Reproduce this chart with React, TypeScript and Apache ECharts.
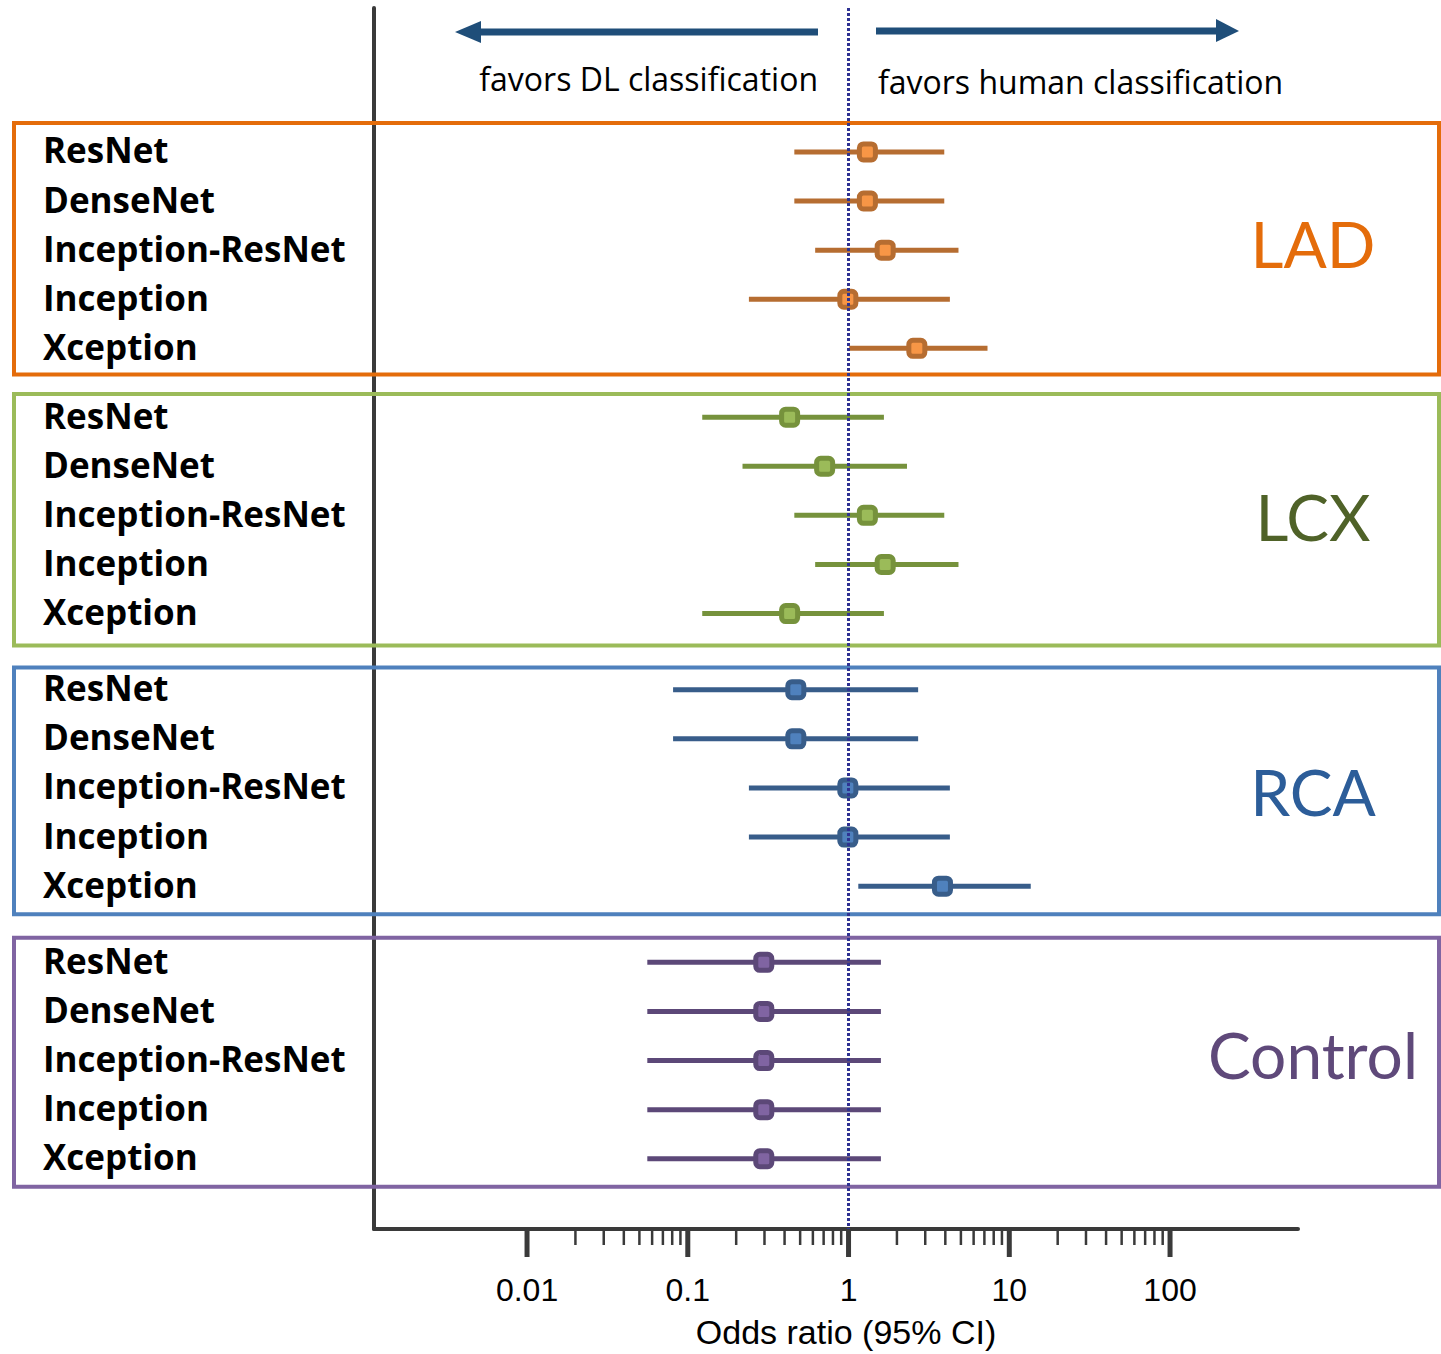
import React, { useEffect, useRef } from 'react';
import * as echarts from 'echarts';

// ---------- data ----------
const MODELS = ['ResNet', 'DenseNet', 'Inception-ResNet', 'Inception', 'Xception'];
const GROUPS = ['LAD', 'LCX', 'RCA', 'Control'];

const LAD_OR = [1.31, 1.31, 1.69, 0.99, 2.66];
const LAD_LO = [0.46, 0.46, 0.62, 0.24, 1.01];
const LAD_HI = [3.94, 3.94, 4.83, 4.27, 7.32];

const LCX_OR = [0.43, 0.71, 1.31, 1.69, 0.43];
const LCX_LO = [0.123, 0.219, 0.46, 0.62, 0.123];
const LCX_HI = [1.66, 2.31, 3.94, 4.83, 1.66];

const RCA_OR = [0.47, 0.47, 0.99, 0.99, 3.84];
const RCA_LO = [0.081, 0.081, 0.24, 0.24, 1.15];
const RCA_HI = [2.71, 2.71, 4.27, 4.27, 13.6];

const CTRL_OR = [0.297, 0.297, 0.297, 0.297, 0.297];
const CTRL_LO = [0.056, 0.056, 0.056, 0.056, 0.056];
const CTRL_HI = [1.59, 1.59, 1.59, 1.59, 1.59];

const OR_ALL = [LAD_OR, LCX_OR, RCA_OR, CTRL_OR];
const LO_ALL = [LAD_LO, LCX_LO, RCA_LO, CTRL_LO];
const HI_ALL = [LAD_HI, LCX_HI, RCA_HI, CTRL_HI];

const MAJOR_TICKS = [0.01, 0.1, 1, 10, 100];
const TICK_LABELS = ['0.01', '0.1', '1', '10', '100'];
const MINOR_MULTIPLIERS = [2, 3, 4, 5, 6, 7, 8, 9];

const X_TITLE = 'Odds ratio (95% CI)';
const LEFT_NOTE = 'favors DL classification';
const RIGHT_NOTE = 'favors human classification';

// ---------- styling / layout ----------
const LINE_COLORS = ['#B66D31', '#76923C', '#385D8A', '#5C4878'];
const FILL_COLORS = ['#F79646', '#9BBB59', '#4F81BD', '#8064A2'];
const BOX_COLORS = ['#E46C0A', '#9BBB59', '#4F81BD', '#8064A2'];
const GROUP_TEXT_COLORS = ['#E46C0A', '#4F6228', '#2C5D99', '#5F497A'];
const GROUP_START = [0, 5.4, 10.95, 16.5];
const BOX_PAD_TOP = [0.59, 0.47, 0.45, 0.5];
const BOX_PAD_BOTTOM = [0.53, 0.65, 0.57, 0.57];
const GROUP_LABEL_DY = [-7, 1, 3.5, -6];
const Y_MIN = -2.93;
const Y_MAX = 21.93;
const AXIS_COLOR = '#3A3A3A';

export default function App() {
  const ref = useRef<HTMLDivElement>(null);

  useEffect(() => {
    document.body.style.margin = '0';
    const chart = echarts.init(ref.current as HTMLDivElement, null, { renderer: 'svg' });

    const tickData: number[][] = [];
    MAJOR_TICKS.forEach((t, i) => {
      tickData.push([t, Y_MAX, 1]);
      if (i < MAJOR_TICKS.length - 1) {
        MINOR_MULTIPLIERS.forEach((m) => tickData.push([t * m, Y_MAX, 0]));
      }
    });

    const series: any[] = [];
    GROUPS.forEach((g, gi) => {
      series.push({
        name: g + ' CI',
        type: 'custom',
        z: 2,
        encode: { x: [0, 1], y: 2 },
        data: MODELS.map((_, r) => [LO_ALL[gi][r], HI_ALL[gi][r], GROUP_START[gi] + r]),
        renderItem: (params: any, api: any) => {
          const p1 = api.coord([api.value(0), api.value(2)]);
          const p2 = api.coord([api.value(1), api.value(2)]);
          return {
            type: 'line',
            shape: { x1: p1[0], y1: p1[1], x2: p2[0], y2: p2[1] },
            style: { stroke: LINE_COLORS[gi], lineWidth: 5 },
          };
        },
      });
      series.push({
        name: g,
        type: 'scatter',
        z: 4,
        symbol: 'roundRect',
        symbolSize: 16,
        itemStyle: { color: FILL_COLORS[gi], borderColor: LINE_COLORS[gi], borderWidth: 5, opacity: 1 },
        data: MODELS.map((_, r) => [OR_ALL[gi][r], GROUP_START[gi] + r]),
      });
    });

    series.push({
      name: 'ticks',
      type: 'custom',
      z: 3,
      encode: { x: 0, y: 1 },
      data: tickData,
      renderItem: (params: any, api: any) => {
        const p = api.coord([api.value(0), Y_MAX]);
        const major = api.value(2) === 1;
        return {
          type: 'line',
          shape: { x1: p[0], y1: p[1], x2: p[0], y2: p[1] + (major ? 28 : 16) },
          style: { stroke: AXIS_COLOR, lineWidth: major ? 5 : 2.5 },
        };
      },
      markLine: {
        silent: true,
        symbol: 'none',
        label: { show: false },
        lineStyle: { type: [3, 2], color: '#2E3192', width: 3 },
        data: [{ xAxis: 1 }],
      },
    });

    const option: any = {
      animation: false,
      backgroundColor: '#ffffff',
      grid: { left: 374, right: 143, top: 8, bottom: 125, containLabel: false },
      xAxis: {
        type: 'log',
        logBase: 10,
        min: Math.pow(10, -2.952),
        max: Math.pow(10, 2.796),
        name: X_TITLE,
        nameLocation: 'middle',
        nameGap: 86,
        nameTextStyle: {
          fontFamily: 'Liberation Sans',
          fontSize: 34,
          color: '#000',
          padding: [0, 0, 0, 20],
        },
        axisLine: { show: true, onZero: false, lineStyle: { color: AXIS_COLOR, width: 4 } },
        axisTick: { show: false },
        splitLine: { show: false },
        axisLabel: {
          showMinLabel: false,
          showMaxLabel: false,
          margin: 45,
          fontFamily: 'Liberation Sans',
          fontSize: 32,
          color: '#000',
          formatter: (v: number) => {
            const i = MAJOR_TICKS.findIndex((t) => Math.abs(Math.log10(t) - Math.log10(v)) < 1e-6);
            return i >= 0 ? TICK_LABELS[i] : '';
          },
        },
      },
      yAxis: {
        type: 'value',
        inverse: true,
        min: Y_MIN,
        max: Y_MAX,
        axisLine: { show: true, onZero: false, lineStyle: { color: AXIS_COLOR, width: 4 } },
        axisTick: { show: false },
        axisLabel: { show: false },
        splitLine: { show: false },
      },
      series,
    };

    chart.setOption(option);

    const yPx = (v: number) => chart.convertToPixel({ yAxisIndex: 0 }, v) as number;
    const graphics: any[] = [];

    GROUPS.forEach((g, gi) => {
      const top = yPx(GROUP_START[gi] - BOX_PAD_TOP[gi]);
      const bottom = yPx(GROUP_START[gi] + 4 + BOX_PAD_BOTTOM[gi]);
      graphics.push({
        type: 'rect',
        z: 1,
        shape: { x: 14, y: top, width: 1425, height: bottom - top },
        style: { fill: 'none', stroke: BOX_COLORS[gi], lineWidth: 4 },
      });
      MODELS.forEach((m, r) => {
        graphics.push({
          type: 'text',
          z: 10,
          x: 43,
          y: yPx(GROUP_START[gi] + r) - 2,
          style: {
            text: m,
            fontFamily: 'Open Sans',
            fontWeight: 'bold',
            fontSize: 35,
            fill: '#000',
            align: 'left',
            verticalAlign: 'middle',
          },
        });
      });
      graphics.push({
        type: 'text',
        z: 10,
        x: 1313,
        y: yPx(GROUP_START[gi] + 2) + GROUP_LABEL_DY[gi],
        style: {
          text: g,
          fontFamily: 'Lato',
          fontSize: 64,
          fill: GROUP_TEXT_COLORS[gi],
          align: 'center',
          verticalAlign: 'middle',
        },
      });
    });

    const arrowColor = '#1F4E79';
    graphics.push(
      { type: 'line', z: 10, shape: { x1: 818, y1: 32, x2: 476, y2: 32 }, style: { stroke: arrowColor, lineWidth: 7 } },
      { type: 'polygon', z: 10, shape: { points: [[455, 32], [481, 21], [481, 43]] }, style: { fill: arrowColor } },
      { type: 'line', z: 10, shape: { x1: 876, y1: 31, x2: 1219, y2: 31 }, style: { stroke: arrowColor, lineWidth: 7 } },
      { type: 'polygon', z: 10, shape: { points: [[1239, 31], [1216, 19], [1216, 42]] }, style: { fill: arrowColor } },
      {
        type: 'text',
        z: 10,
        x: 818,
        y: 78,
        style: { text: LEFT_NOTE, fontFamily: 'Open Sans', fontSize: 32, fill: '#000', align: 'right', verticalAlign: 'middle' },
      },
      {
        type: 'text',
        z: 10,
        x: 878,
        y: 81,
        style: { text: RIGHT_NOTE, fontFamily: 'Open Sans', fontSize: 32, fill: '#000', align: 'left', verticalAlign: 'middle' },
      }
    );

    chart.setOption({ graphic: graphics });

    return () => chart.dispose();
  }, []);

  return <div ref={ref} style={{ position: 'absolute', left: 0, top: 0, width: 1441, height: 1354 }} />;
}
